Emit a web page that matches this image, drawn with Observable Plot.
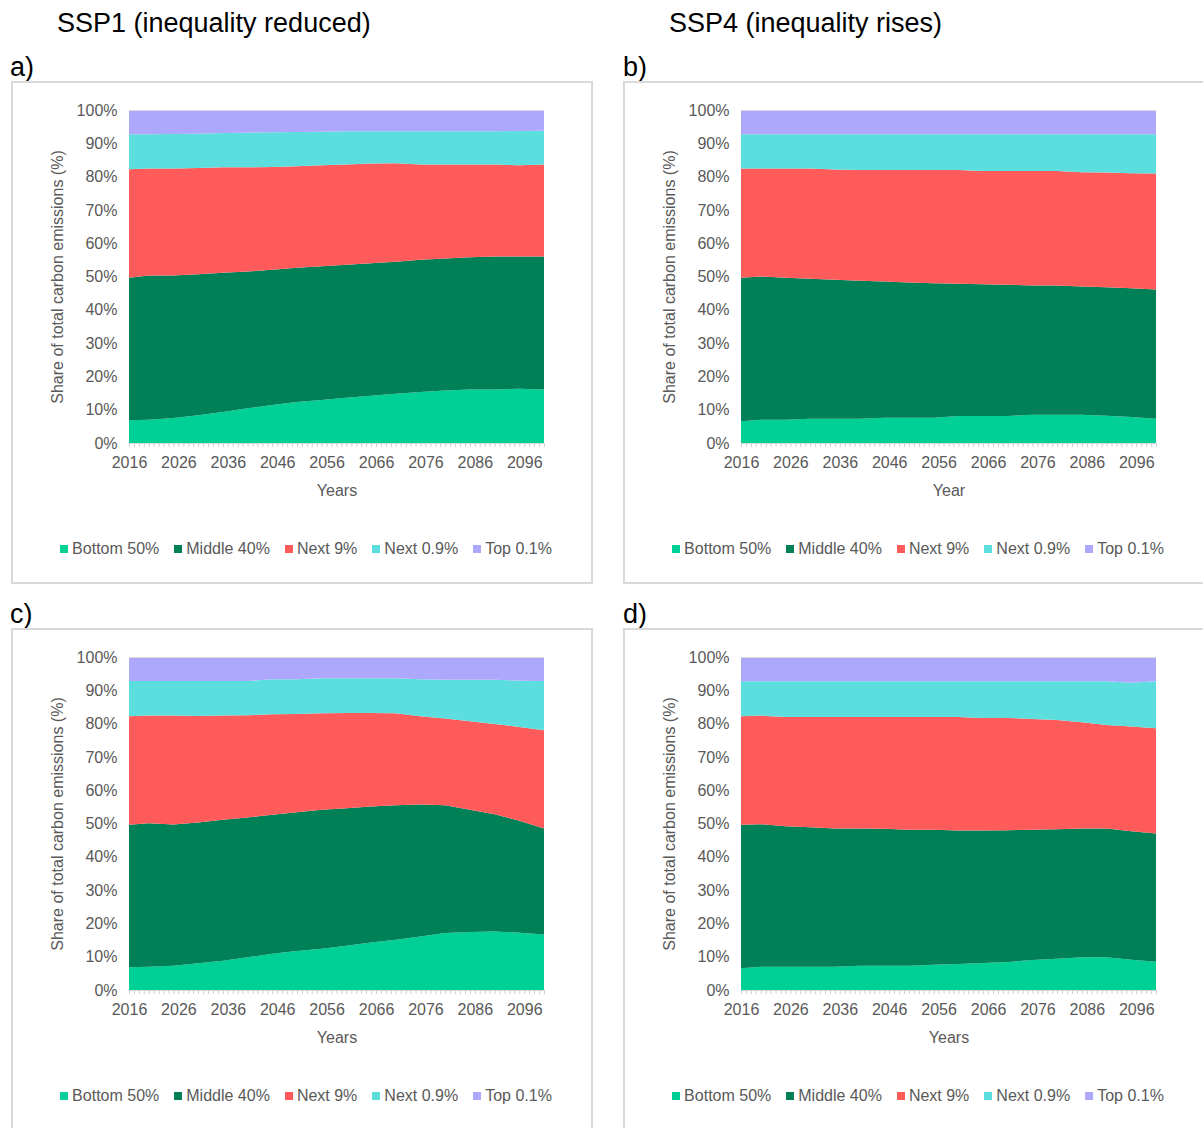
<!DOCTYPE html>
<html>
<head>
<meta charset="utf-8">
<script src="https://cdn.jsdelivr.net/npm/d3@7"></script>
<script src="https://cdn.jsdelivr.net/npm/@observablehq/plot@0.6"></script>
<style>
  html, body { margin: 0; padding: 0; background: #fff; }
  body { width: 1203px; height: 1128px; position: relative; overflow: hidden;
         font-family: "Liberation Sans", Arial, sans-serif; }
  .abs { position: absolute; }
  .title { font-size: 27px; line-height: 1; color: #000; white-space: nowrap; }
  .frame { border: 2px solid #d9d9d9; box-sizing: border-box; }
  .legend { display: flex; justify-content: center; align-items: center; gap: 15px;
            font-size: 16px; color: #595959; white-space: nowrap; line-height: 1; }
  .legend span.sw { display: inline-block; width: 8px; height: 8px; margin-right: 4px; }
  .legend .item { display: flex; align-items: center; }
</style>
</head>
<body>
<script>
// ---------- data (shares in % of total carbon emissions) ----------
const years = [2016, 2020, 2025, 2030, 2035, 2040, 2045, 2050, 2055, 2060, 2065, 2070, 2075, 2080, 2085, 2090, 2095, 2100];
const groups = ["Bottom 50%", "Middle 40%", "Next 9%", "Next 0.9%", "Top 0.1%"];
const colors = ["#00cf96", "#008056", "#ff5b5b", "#5cdedf", "#aea8fc"];
const xTickYears = [2016, 2026, 2036, 2046, 2056, 2066, 2076, 2086, 2096];
const yTicks = [0, 10, 20, 30, 40, 50, 60, 70, 80, 90, 100];

// a) SSP1
const aBottom = [6.8, 7.0, 7.5, 8.3, 9.3, 10.4, 11.4, 12.3, 12.9, 13.6, 14.2, 14.8, 15.3, 15.8, 16.1, 16.1, 16.3, 16.1];
const aMiddle = [42.8, 43.3, 42.8, 42.4, 41.8, 41.1, 40.6, 40.3, 40.2, 39.9, 39.8, 39.6, 39.7, 39.6, 39.7, 39.9, 39.7, 39.9];
const aNext9  = [32.6, 32.1, 32.1, 31.9, 31.7, 31.3, 30.9, 30.5, 30.3, 30.1, 29.9, 29.6, 28.6, 28.2, 27.8, 27.6, 27.4, 27.6];
const aNext09 = [10.5, 10.3, 10.4, 10.3, 10.3, 10.4, 10.4, 10.3, 10.1, 10.0, 9.7, 9.6, 10.0, 10.0, 10.0, 10.0, 10.3, 10.2];
const aTop    = [7.3, 7.3, 7.2, 7.1, 6.9, 6.8, 6.7, 6.6, 6.5, 6.4, 6.4, 6.4, 6.4, 6.4, 6.4, 6.4, 6.3, 6.2];

// b) SSP4
const bBottom = [6.5, 7.0, 7.0, 7.3, 7.3, 7.3, 7.6, 7.6, 7.6, 8.1, 8.1, 8.1, 8.5, 8.5, 8.5, 8.2, 7.8, 7.3];
const bMiddle = [43.1, 43.0, 42.6, 42.0, 41.7, 41.4, 40.9, 40.6, 40.4, 39.7, 39.6, 39.4, 38.8, 38.8, 38.5, 38.6, 38.7, 38.8];
const bNext9  = [32.8, 32.4, 32.8, 33.1, 33.1, 33.3, 33.5, 33.8, 34.0, 34.2, 34.0, 34.2, 34.4, 34.4, 34.3, 34.4, 34.5, 34.8];
const bNext09 = [10.3, 10.3, 10.3, 10.3, 10.6, 10.7, 10.7, 10.7, 10.7, 10.7, 11.0, 11.0, 11.0, 11.0, 11.4, 11.5, 11.7, 11.8];
const bTop    = [7.3, 7.3, 7.3, 7.3, 7.3, 7.3, 7.3, 7.3, 7.3, 7.3, 7.3, 7.3, 7.3, 7.3, 7.3, 7.3, 7.3, 7.3];

// c) SSP1
const cBottom = [6.8, 7.0, 7.3, 8.0, 8.8, 9.8, 10.9, 11.7, 12.4, 13.3, 14.3, 15.1, 16.1, 17.1, 17.4, 17.6, 17.2, 16.7];
const cMiddle = [42.8, 43.1, 42.4, 42.3, 42.3, 42.0, 41.7, 41.7, 41.7, 41.3, 40.8, 40.4, 39.6, 38.4, 36.7, 35.2, 33.6, 31.8];
const cNext9  = [32.6, 32.3, 32.7, 32.0, 31.3, 30.7, 30.2, 29.5, 29.0, 28.6, 28.1, 27.6, 26.5, 26.0, 26.6, 27.1, 28.2, 29.5];
const cNext09 = [10.6, 10.4, 10.4, 10.5, 10.4, 10.3, 10.5, 10.4, 10.5, 10.4, 10.4, 10.5, 11.1, 11.7, 12.5, 13.3, 13.9, 14.8];
const cTop    = [7.2, 7.2, 7.2, 7.2, 7.2, 7.2, 6.7, 6.7, 6.4, 6.4, 6.4, 6.4, 6.7, 6.8, 6.8, 6.8, 7.1, 7.2];

// d) SSP4
const dBottom = [6.5, 7.0, 7.0, 7.0, 7.0, 7.3, 7.3, 7.3, 7.6, 7.8, 8.1, 8.4, 9.0, 9.4, 9.8, 9.8, 9.1, 8.5];
const dMiddle = [43.1, 42.8, 42.2, 41.9, 41.5, 41.2, 41.1, 40.8, 40.5, 40.1, 39.8, 39.6, 39.1, 38.9, 38.7, 38.7, 38.6, 38.5];
const dNext9  = [32.6, 32.6, 32.8, 33.1, 33.5, 33.5, 33.6, 33.9, 33.9, 34.1, 33.8, 33.7, 33.3, 32.8, 31.9, 31.1, 31.4, 31.6];
const dNext09 = [10.5, 10.3, 10.7, 10.7, 10.7, 10.7, 10.7, 10.7, 10.7, 10.7, 11.0, 11.0, 11.3, 11.6, 12.3, 13.1, 13.2, 14.1];
const dTop    = [7.3, 7.3, 7.3, 7.3, 7.3, 7.3, 7.3, 7.3, 7.3, 7.3, 7.3, 7.3, 7.3, 7.3, 7.3, 7.3, 7.7, 7.3];

const panels = [
  {key: "a", series: [aBottom, aMiddle, aNext9, aNext09, aTop], xLabel: "Years", left: 11, top: 81},
  {key: "b", series: [bBottom, bMiddle, bNext9, bNext09, bTop], xLabel: "Year", left: 623, top: 81},
  {key: "c", series: [cBottom, cMiddle, cNext9, cNext09, cTop], xLabel: "Years", left: 11, top: 628},
  {key: "d", series: [dBottom, dMiddle, dNext9, dNext09, dTop], xLabel: "Years", left: 623, top: 628}
];

// ---------- page text ----------
function addDiv(cls, text, left, top, extra) {
  const el = document.createElement("div");
  el.className = "abs " + cls;
  el.textContent = text;
  el.style.left = left + "px";
  el.style.top = top + "px";
  if (extra) Object.assign(el.style, extra);
  document.body.appendChild(el);
  return el;
}
addDiv("title", "SSP1 (inequality reduced)", 57, 10);
addDiv("title", "SSP4 (inequality rises)", 669, 10);
addDiv("title", "a)", 10, 54);
addDiv("title", "b)", 623, 54);
addDiv("title", "c)", 10, 601);
addDiv("title", "d)", 623, 601);

const allYears = d3.range(2016, 2101);
const FONT = "'Liberation Sans', Arial, sans-serif";

for (const p of panels) {
  // frame
  addDiv("frame", "", p.left, p.top, {width: (p.key === "a" || p.key === "c") ? "582px" : "600px",
                                       height: (p.top < 300) ? "503px" : "520px"});
  const rows = [];
  groups.forEach((g, gi) => years.forEach((yr, i) => rows.push({year: yr, group: g, value: p.series[gi][i]})));

  const chart = Plot.plot({
    width: 582, height: 430,
    marginLeft: 118, marginRight: 49, marginTop: 29, marginBottom: 68,
    style: {background: "transparent", fontFamily: FONT, fontSize: "16px", color: "#595959", overflow: "visible"},
    x: {domain: [2016, 2100], label: null},
    y: {domain: [0, 100], label: null},
    color: {domain: groups, range: colors},
    marks: [
      Plot.areaY(rows, {x: "year", y: "value", fill: "group", z: "group", order: groups, curve: "linear"}),
      Plot.ruleY([100], {stroke: "#d9d9d9", strokeWidth: 1}),
      Plot.ruleY([0], {stroke: "#d9d9d9", strokeWidth: 1}),
      Plot.axisX({ticks: allYears, tickSize: 4, tickPadding: 9, stroke: "#d0d0d0",
                  tickFormat: d => ((d - 2016) % 10 === 0 ? String(d) : ""), fontSize: 16, fill: "#595959", label: null}),
      Plot.axisY({ticks: yTicks, tickSize: 0, tickPadding: 12, tickFormat: d => d + "%", fontSize: 16, fill: "#595959", label: null}),
      Plot.text([p.xLabel], {frameAnchor: "bottom", dy: 47, text: d => d, fontSize: 16, fill: "#595959", lineAnchor: "middle", textAnchor: "middle"}),
      Plot.text(["Share of total carbon emissions (%)"], {frameAnchor: "left", dx: -72, rotate: -90, text: d => d, fontSize: 16, fill: "#595959", lineAnchor: "middle", textAnchor: "middle"})
    ]
  });
  chart.style.position = "absolute";
  chart.style.left = p.left + "px";
  chart.style.top = p.top + "px";
  document.body.appendChild(chart);

  // legend
  const leg = document.createElement("div");
  leg.className = "abs legend";
  leg.style.left = p.left + "px";
  leg.style.width = "590px";
  leg.style.top = (p.top + 468 - 8) + "px";
  leg.style.height = "16px";
  groups.forEach((g, i) => {
    const it = document.createElement("div");
    it.className = "item";
    const sw = document.createElement("span");
    sw.className = "sw";
    sw.style.background = colors[i];
    it.appendChild(sw);
    it.appendChild(document.createTextNode(g));
    leg.appendChild(it);
  });
  document.body.appendChild(leg);
}
</script>
</body>
</html>
